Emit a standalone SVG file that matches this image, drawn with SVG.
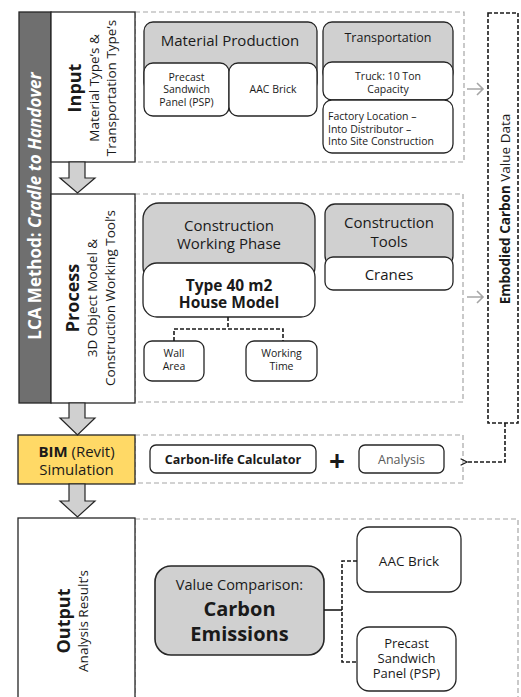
<svg xmlns="http://www.w3.org/2000/svg" width="521" height="697" viewBox="0 0 521 697">
<style>
text{font-family:"Open Sans","Noto Sans","DejaVu Sans",sans-serif;fill:#1a1a1a}
.c{text-anchor:middle}
.b{font-weight:bold}
.grp{fill:none;stroke:#a6a6a6;stroke-width:1.2;stroke-dasharray:5,3}
.hdr{fill:#d0d0d0;stroke:#262626;stroke-width:1.3}
.wb{fill:#fff;stroke:#262626;stroke-width:1.3}
.blk{fill:#fff;stroke:#262626;stroke-width:1.3}
.dc{fill:none;stroke:#1a1a1a;stroke-width:1.6;stroke-dasharray:4,2}
.ga{fill:none;stroke:#a6a6a6;stroke-width:1.6}
.ba{fill:#d0d0d0;stroke:#262626;stroke-width:1.2}
</style>
<defs>
<marker id="chev" viewBox="0 0 10 10" refX="1" refY="5" markerWidth="8" markerHeight="8" orient="auto-start-reverse" markerUnits="userSpaceOnUse">
<path d="M9,1 L1,5 L9,9" fill="none" stroke="#1a1a1a" stroke-width="1.4"/>
</marker>
</defs>

<!-- group containers -->
<rect class="grp" x="135" y="12" width="329" height="150"/>
<rect class="grp" x="135" y="194" width="328" height="208"/>
<rect class="grp" x="135" y="435" width="328" height="48"/>
<rect class="grp" x="135" y="519" width="383" height="200"/>

<g id="lca-bar">
<rect x="19" y="12" width="32" height="391" fill="#6f6f6f" stroke="#262626" stroke-width="1.3"/>
<text transform="translate(41,206) rotate(-90)" class="c b" font-size="17" style="fill:#fff">LCA  Method: <tspan font-style="italic">Cradle to Handover</tspan></text>
</g>

<g id="input">
<rect class="blk" x="51" y="12" width="84" height="150"/>
<text transform="translate(81,88) rotate(-90)" class="c b" font-size="18">Input</text>
<text transform="translate(99,88) rotate(-90)" class="c" font-size="13.5">Material Type’s &amp;</text>
<text transform="translate(116,88) rotate(-90)" class="c" font-size="13.5">Transportation Type’s</text>
</g>

<g id="process">
<rect class="blk" x="51" y="194" width="84" height="209"/>
<text transform="translate(79,298) rotate(-90)" class="c b" font-size="18">Process</text>
<text transform="translate(97,298) rotate(-90)" class="c" font-size="13.5">3D Object Model &amp;</text>
<text transform="translate(115,298) rotate(-90)" class="c" font-size="13.5">Construction Working Tool’s</text>
</g>

<g id="bim">
<rect x="18" y="435" width="117" height="49" fill="#ffd966" stroke="#262626" stroke-width="1.3"/>
<text x="76.5" y="457" class="c" font-size="15"><tspan class="b">BIM</tspan> (Revit)</text>
<text x="76.5" y="475" class="c" font-size="15">Simulation</text>
</g>

<g id="output">
<rect class="blk" x="18" y="518" width="117" height="200"/>
<text transform="translate(70,621) rotate(-90)" class="c b" font-size="18">Output</text>
<text transform="translate(88,621) rotate(-90)" class="c" font-size="13.5">Analysis Result’s</text>
</g>

<g id="material-production">
<rect class="hdr" x="144" y="22" width="173" height="70" rx="9"/>
<text x="230" y="46" class="c" font-size="15">Material Production</text>
<rect class="wb" x="144" y="63" width="85" height="53" rx="9"/>
<text x="186.5" y="81" class="c" font-size="10.5">Precast</text>
<text x="186.5" y="93" class="c" font-size="10.5">Sandwich</text>
<text x="186.5" y="105.5" class="c" font-size="10.5">Panel (PSP)</text>
<rect class="wb" x="229" y="63" width="88" height="53" rx="9"/>
<text x="273" y="93" class="c" font-size="10.5">AAC Brick</text>
</g>

<g id="transportation">
<rect class="hdr" x="323" y="22" width="130" height="60" rx="9"/>
<text x="388" y="42" class="c" font-size="12.5">Transportation</text>
<rect class="wb" x="323" y="62" width="130" height="38" rx="9"/>
<text x="388" y="80" class="c" font-size="10.5">Truck: 10 Ton</text>
<text x="388" y="93" class="c" font-size="10.5">Capacity</text>
<rect class="wb" x="323" y="100" width="130" height="53" rx="9"/>
<text x="328" y="120" font-size="10.5">Factory Location –</text>
<text x="328" y="133" font-size="10.5">Into Distributor –</text>
<text x="328" y="145" font-size="10.5">Into Site Construction</text>
</g>

<g id="construction-working-phase">
<rect class="hdr" x="143" y="203" width="172" height="80" rx="16"/>
<text x="229" y="231" class="c" font-size="15">Construction</text>
<text x="229" y="249" class="c" font-size="15">Working Phase</text>
<rect class="wb" x="143" y="263" width="172" height="54" rx="14"/>
<text x="229" y="291" class="c b" font-size="15.5">Type 40 m2</text>
<text x="229" y="308" class="c b" font-size="15.5">House Model</text>
</g>

<g id="wall-area">
<rect class="wb" x="144" y="341" width="60" height="40" rx="8"/>
<text x="174" y="357" class="c" font-size="10.5">Wall</text>
<text x="174" y="370" class="c" font-size="10.5">Area</text>
</g>

<g id="working-time">
<rect class="wb" x="246" y="341" width="71" height="40" rx="8"/>
<text x="281.5" y="357" class="c" font-size="10.5">Working</text>
<text x="281.5" y="370" class="c" font-size="10.5">Time</text>
</g>

<g id="construction-tools">
<rect class="hdr" x="325" y="204" width="128" height="62" rx="10"/>
<text x="389" y="228" class="c" font-size="15">Construction</text>
<text x="389" y="247" class="c" font-size="15">Tools</text>
<rect class="wb" x="325" y="257" width="128" height="33" rx="8"/>
<text x="389" y="280" class="c" font-size="15">Cranes</text>
</g>

<g id="embodied-carbon">
<rect x="488" y="13" width="30" height="410" fill="#fff" stroke="#1a1a1a" stroke-width="1.6" stroke-dasharray="4,2"/>
<text transform="translate(510,209) rotate(-90)" class="c" font-size="13.5"><tspan class="b">Embodied Carbon</tspan> Value Data</text>
</g>

<g id="carbon-life-calculator">
<rect class="wb" x="150" y="445" width="166" height="28" rx="6"/>
<text x="233" y="464" class="c b" font-size="12.5">Carbon-life Calculator</text>
</g>

<text x="337" y="471" class="c b" font-size="28">+</text>

<g id="analysis">
<rect class="wb" x="359" y="445" width="85" height="28" rx="6"/>
<text x="401.5" y="464" class="c" font-size="12.5" style="fill:#595959">Analysis</text>
</g>

<g id="value-comparison">
<rect x="155" y="566" width="169" height="89" rx="16" fill="#d0d0d0" stroke="#262626" stroke-width="1.6"/>
<text x="239.5" y="590" class="c" font-size="14.5">Value Comparison:</text>
<text x="239.5" y="616" class="c b" font-size="20">Carbon</text>
<text x="239.5" y="641" class="c b" font-size="20">Emissions</text>
</g>

<g id="out-aac">
<rect class="wb" x="357" y="527" width="104" height="65" rx="12"/>
<text x="409" y="566" class="c" font-size="13.5">AAC Brick</text>
</g>

<g id="out-psp">
<rect class="wb" x="357" y="627" width="99" height="64" rx="12"/>
<text x="406.5" y="648" class="c" font-size="13">Precast</text>
<text x="406.5" y="663" class="c" font-size="13">Sandwich</text>
<text x="406.5" y="678" class="c" font-size="13">Panel (PSP)</text>
</g>

<g id="connectors">
<!-- block arrows -->
<polygon class="ba" points="69,162 85,162 85,178 95,178 77.5,193 60,178 69,178"/>
<polygon class="ba" points="69,403 85,403 85,418 95,418 77.5,435 60,418 69,418"/>
<polygon class="ba" points="69,484 85,484 85,501 95,501 77.5,517 60,501 69,501"/>
<!-- gray arrows to embodied carbon -->
<path class="ga" d="M467,89 H483 M477,83 L483,89 L477,95"/>
<path class="ga" d="M467,297 H483 M477,291 L483,297 L477,303"/>
<!-- embodied carbon to BIM -->
<path class="dc" d="M505,423 V462 H467" marker-end="url(#chev)"/>
<!-- house model to wall/working -->
<path class="dc" d="M228,317 V329 M174,341 V329 H283 V341"/>
<!-- value comparison to outputs -->
<path d="M324,610 H342" fill="none" stroke="#1a1a1a" stroke-width="1.6"/>
<path class="dc" d="M357,561 H342 V662 H357"/>
</g>
</svg>
